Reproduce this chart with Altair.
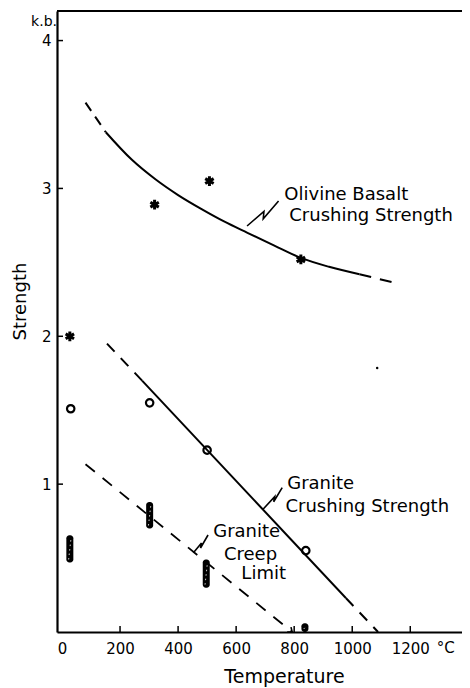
import altair as alt
import pandas as pd

W, H = 405, 621
XMAX, YMAX = 1361, 4.2
FONT = "DejaVu Sans"

# ---- data ----
x_ticks = [0, 200, 400, 600, 800, 1000, 1200]
y_ticks = [1, 2, 3, 4]

star_T = [27, 319, 508, 823]
star_S = [2.0, 2.89, 3.05, 2.52]

circ_T = [30, 302, 500, 840]
circ_S = [1.51, 1.55, 1.23, 0.55]

bar_T = [27, 302, 497, 837]
bar_lo = [0.47, 0.70, 0.30, 0.0]
bar_hi = [0.655, 0.88, 0.49, 0.06]

olv_dash1_T = [81, 151]
olv_dash1_S = [3.58, 3.38]
olv_solid_T = [151, 240, 323, 400, 481, 560, 639, 730, 823, 920, 1025]
olv_solid_S = [3.38, 3.195, 3.06, 2.955, 2.86, 2.775, 2.70, 2.615, 2.53, 2.47, 2.42]
olv_dash2_T = [1025, 1160]
olv_dash2_S = [2.42, 2.355]

gcs_dash1_T = [155, 276]
gcs_dash1_S = [1.95, 1.70]
gcs_solid_T = [276, 978]
gcs_solid_S = [1.70, 0.23]
gcs_dash2_T = [978, 1089]
gcs_dash2_S = [0.23, 0.0]

creep_T = [81, 793]
creep_S = [1.135, 0.0]

speck_T = [1086]
speck_S = [1.785]

lead_olv_T = [637.6, 695.8, 693.4, 746.2]
lead_olv_S = [2.746, 2.845, 2.795, 2.915]
lead_gcs_T = [693.4, 732.8, 729.4, 758.7]
lead_gcs_S = [0.832, 0.915, 0.881, 0.976]
lead_crp_T = [452.8, 480.7, 477.3, 503.2]
lead_crp_S = [0.536, 0.602, 0.568, 0.656]

label_text = ["Olivine Basalt", "Crushing Strength",
              "Granite", "Crushing Strength",
              "Granite", "Creep", "Limit"]
label_T = [766, 783, 776, 770, 521, 558, 618]
label_S = [2.955, 2.813, 1.0, 0.845, 0.676, 0.521, 0.392]

# ---- helpers ----
xs = alt.Scale(domain=[0, XMAX], nice=False, zero=False)
ys = alt.Scale(domain=[0, YMAX], nice=False, zero=False)


def df(T, S):
    return pd.DataFrame({"T": T, "S": S, "o": list(range(len(T)))})


def line(T, S, dash=None, width=2.0, interp="linear"):
    kw = dict(color="black", strokeWidth=width, interpolate=interp, strokeCap="butt")
    if dash:
        kw["strokeDash"] = dash
    return alt.Chart(df(T, S)).mark_line(**kw).encode(
        x=alt.X("T:Q", scale=xs), y=alt.Y("S:Q", scale=ys), order="o:Q")


# stars carry the axes
stars = alt.Chart(df(star_T, star_S)).mark_point(
    shape="M0,-1L0,1M-0.866,-0.5L0.866,0.5M-0.866,0.5L0.866,-0.5",
    filled=False, stroke="black", strokeWidth=3, size=95, opacity=1,
).encode(
    x=alt.X("T:Q", scale=xs, axis=alt.Axis(
        values=x_ticks, title="Temperature", format="d", ticks=False, tickSize=0,
        grid=False, domainColor="black", domainWidth=2.2,
        labelFont=FONT, labelFontSize=15, labelColor="black", labelPadding=9,
        titleFont=FONT, titleFontSize=19, titleFontWeight="normal", titleColor="black",
        titlePadding=11, titleX=227, labelFlush=False)),
    y=alt.Y("S:Q", scale=ys, axis=alt.Axis(
        values=y_ticks, title="Strength", format="d", ticks=False, tickSize=0, grid=False,
        domainColor="black", domainWidth=2.2,
        labelFont=FONT, labelFontSize=15, labelColor="black", labelPadding=6,
        titleFont=FONT, titleFontSize=18, titleFontWeight="normal", titleColor="black",
        titlePadding=12, titleY=290)),
)

circles = alt.Chart(df(circ_T, circ_S)).mark_point(
    shape="circle", filled=False, stroke="black", strokeWidth=2.2, size=55, opacity=1,
).encode(x=alt.X("T:Q", scale=xs), y=alt.Y("S:Q", scale=ys))

bars_df = pd.DataFrame({"T": bar_T, "lo": bar_lo, "hi": bar_hi})
bars = alt.Chart(bars_df).mark_bar(
    color="black", width=7, cornerRadius=3,
).encode(x=alt.X("T:Q", scale=xs), y=alt.Y("lo:Q", scale=ys), y2="hi:Q")
hatch = alt.Chart(bars_df).mark_rule(
    color="white", strokeWidth=0.8, strokeDash=[1.5, 3],
    xOffset=-1.2, x2Offset=1.2, yOffset=-3, y2Offset=3,
).encode(x=alt.X("T:Q", scale=xs), x2="T:Q", y=alt.Y("lo:Q", scale=ys), y2="hi:Q")

speck = alt.Chart(df(speck_T, speck_S)).mark_point(
    filled=True, color="black", size=6, opacity=1
).encode(x=alt.X("T:Q", scale=xs), y=alt.Y("S:Q", scale=ys))

arrow = alt.Chart(df(creep_T[-1:], creep_S[-1:])).mark_point(
    shape="M-1,-0.8L0,0L-1,0.8", filled=False, stroke="black", strokeWidth=1.6,
    size=60, angle=38, opacity=1,
).encode(x=alt.X("T:Q", scale=xs), y=alt.Y("S:Q", scale=ys))

labels = alt.Chart(pd.DataFrame({"T": label_T, "S": label_S, "t": label_text})).mark_text(
    align="left", baseline="middle", font=FONT, fontSize=18, color="black",
).encode(x=alt.X("T:Q", scale=xs), y=alt.Y("S:Q", scale=ys), text="t:N")

top_frame = alt.Chart(pd.DataFrame({"a": [0]})).mark_rule(
    color="black", strokeWidth=2.2
).encode(x=alt.value(0), x2=alt.value(W), y=alt.value(0))

xt = alt.Chart(pd.DataFrame({"T": x_ticks[1:]})).mark_rule(
    color="black", strokeWidth=1.5
).encode(x=alt.X("T:Q", scale=xs), y=alt.value(H), y2=alt.value(H - 6))

yt = alt.Chart(pd.DataFrame({"S": y_ticks})).mark_rule(
    color="black", strokeWidth=1.5
).encode(y=alt.Y("S:Q", scale=ys), x=alt.value(0), x2=alt.value(6))

kb = alt.Chart(pd.DataFrame({"t": ["k.b."]})).mark_text(
    align="right", baseline="middle", font=FONT, fontSize=14, color="black"
).encode(x=alt.value(0), y=alt.value(11), text="t:N")

degc = alt.Chart(pd.DataFrame({"T": [1291], "t": ["°C"]})).mark_text(
    align="left", baseline="top", font=FONT, fontSize=15, color="black", dy=0
).encode(x=alt.X("T:Q", scale=xs), y=alt.value(H + 9), text="t:N")

chart = alt.layer(
    stars,
    top_frame, xt, yt,
    line(olv_dash1_T, olv_dash1_S, dash=[10, 7]),
    line(olv_solid_T, olv_solid_S, interp="monotone"),
    line(olv_dash2_T, olv_dash2_S, dash=[12, 9]),
    line(gcs_dash1_T, gcs_dash1_S, dash=[11, 9]),
    line(gcs_solid_T, gcs_solid_S),
    line(gcs_dash2_T, gcs_dash2_S, dash=[11, 9]),
    line(creep_T, creep_S, dash=[12, 10], width=1.8),
    line(lead_olv_T, lead_olv_S, width=1.6),
    line(lead_gcs_T, lead_gcs_S, width=1.6),
    line(lead_crp_T, lead_crp_S, width=1.6),
    bars, hatch, circles, speck, arrow, labels, kb, degc,
).properties(
    width=W, height=H, autosize="none",
    padding={"left": 49, "top": 3, "right": 0, "bottom": 56},
).configure_view(stroke=None).configure(background="white")

chart.save("out.html", embed_options={"renderer": "svg", "actions": False})
